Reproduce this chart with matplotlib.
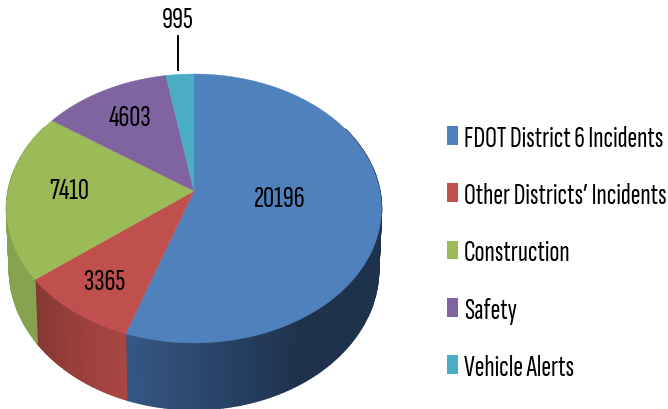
import numpy as np
import matplotlib
matplotlib.use("Agg")
import matplotlib.pyplot as plt
from matplotlib.patches import Patch

plt.rcParams['font.family'] = ['Sofia Sans Extra Condensed', 'Liberation Sans', 'DejaVu Sans']

categorias = ["FDOT District 6 Incidents", "Other Districts\u2019 Incidents", "Construction", "Safety", "Vehicle Alerts"]
valores = [20196, 3365, 7410, 4603, 995]
colores = ["#4F81BD", "#C0504D", "#9BBB59", "#8064A2", "#4BACC6"]
# tono de la pared lateral: (inicio, fin) recorriendo en sentido horario
pared = [((30, 50, 76), (54, 88, 133)), ((134, 55, 50), (168, 70, 66)), ((133, 163, 78), (133, 163, 78)),
         ((90, 70, 115), (90, 70, 115)), ((50, 120, 140), (50, 120, 140))]
pos_etiquetas = [(280, 200), (105, 283), (69, 192), (130, 118), (178, 20)]

# plato del pie con perspectiva, en pixeles de la imagen
cx, cy = 194.0, 192.0
A, B, k = 185.9, 132.2, 0.13
alto = 60
escala_base = 0.985


def borde(ang, esc=1.0, h=0.0):
    a = np.radians(ang)
    w = 1 + k * np.cos(a)
    return cx + esc * A * np.sin(a) / w, cy + (h - esc * B * np.cos(a)) / w


fig = plt.figure(figsize=(6.68, 4.10), dpi=100)
ax = fig.add_axes([0, 0, 1, 1])
ax.set_xlim(0, 668)
ax.set_ylim(410, 0)
ax.axis("off")

cortes = np.concatenate([[0], np.cumsum(valores)]) * 360.0 / sum(valores)

# paredes laterales
for i in range(len(valores)):
    ini, fin = cortes[i], cortes[i + 1]
    angulos = np.arange(max(ini, 60), min(fin, 300) + 1.0, 1.0)
    if len(angulos) < 2:
        continue
    c0, c1 = np.array(pared[i][0]), np.array(pared[i][1])
    if i == 0:
        t = np.clip((angulos - 150) / (fin - 150), 0, 1)
    else:
        t = 1 - (angulos - ini) / (fin - ini)
    for j in range(len(angulos) - 1):
        seg = np.array([angulos[j], min(angulos[j + 1], fin)])
        x1, y1 = borde(seg)
        x2, y2 = borde(seg, escala_base, alto)
        col = (c0 + (c1 - c0) * t[j]) / 255
        ax.fill(np.r_[x1, x2[::-1]], np.r_[y1, y2[::-1]], color=col, lw=1.0, zorder=1)

# cara superior
for i in range(len(valores)):
    angulos = np.linspace(cortes[i], cortes[i + 1], 200)
    x, y = borde(angulos)
    ax.fill(np.r_[cx, x], np.r_[cy, y], color=colores[i], lw=0.3, zorder=2)

for v, (xt, yt) in zip(valores, pos_etiquetas):
    ax.text(xt, yt, str(v), ha="center", va="center", fontsize=22, color="black", zorder=3)

ax.plot([178, 178], [37, 71], color="black", lw=1.4, zorder=3)

handles = [Patch(facecolor=c, edgecolor="none") for c in colores]
ax.legend(handles, categorias, loc="upper left", bbox_to_anchor=(447 / 668, 1 - 126 / 410), frameon=False,
          fontsize=21.2, handlelength=0.375, handleheight=0.61, handletextpad=0.2, labelspacing=1.025,
          borderpad=0, borderaxespad=0)

fig.savefig("out.png", dpi=100)
